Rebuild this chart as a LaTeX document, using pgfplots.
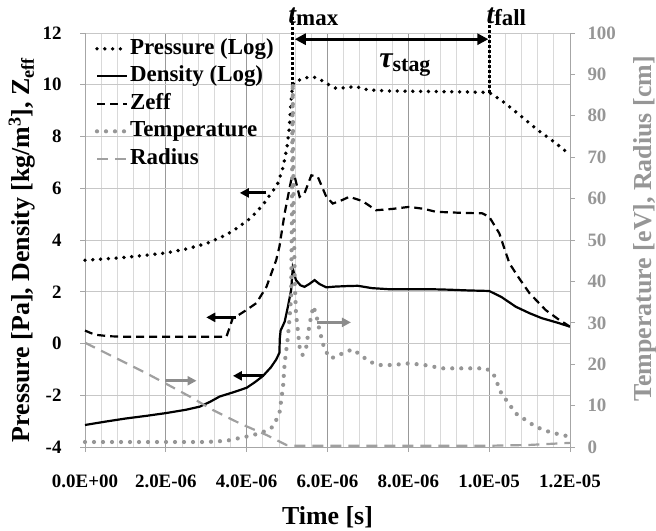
\documentclass[border=0pt]{standalone}
\usepackage{fontspec}
\setmainfont{Liberation Serif}
\usepackage{pgfplots}
\pgfplotsset{compat=1.18}
\usetikzlibrary{arrows.meta}
\definecolor{gser}{RGB}{150,150,150}
\definecolor{gdash}{RGB}{160,160,160}
\definecolor{garrow}{RGB}{140,140,140}
\definecolor{glabel}{RGB}{150,150,150}
\tikzset{
 pres/.style={black, line width=3.8bp, dash pattern=on 0bp off 7.8bp, line cap=round},
 dens/.style={black, line width=2.2bp},
 zeff/.style={black, line width=2.2bp, dash pattern=on 8bp off 5bp},
 temp/.style={gser, line width=4.2bp, dash pattern=on 0bp off 9bp, line cap=round},
 rad/.style={gdash, line width=2.2bp, dash pattern=on 11bp off 7bp},
}
\newcommand\tf{\fontsize{19}{22}\selectfont\bfseries}
\newcommand\lf{\fontsize{26}{30}\selectfont\bfseries}
\begin{document}
\begin{tikzpicture}
\pgfplotsset{every axis/.append style={scale only axis, width=485bp, height=414bp, xmin=0, xmax=1.2e-5, scaled x ticks=false}}
\begin{axis}[name=ax,
  ymin=-4, ymax=12,
  axis x line*=bottom, axis y line*=left,
  axis line style={draw=black!35, line width=0.8bp},
  xtick={0,2e-6,4e-6,6e-6,8e-6,1e-5,1.2e-5},
  xticklabels={0.0E+00,2.0E-06,4.0E-06,6.0E-06,8.0E-06,1.0E-05,1.2E-05},
  minor x tick num=4,
  ytick={-4,-2,0,2,4,6,8,10,12},
  yticklabels={-4,-2,0,2,4,6,8,10,12},
  tick align=outside, major tick length=5bp, minor tick length=0bp,
  tick style={draw=black!35, line width=0.8bp},
  grid=both,
  major x grid style={draw=black!40, line width=0.8bp},
  minor x grid style={draw=black!15, line width=0.8bp},
  major y grid style={draw=black!22, line width=0.8bp},
  xticklabel style={font=\tf, yshift=-19bp},
  yticklabel style={font=\tf, xshift=-15bp},
  xlabel={Time [s]},
  xlabel style={font=\lf, at={(axis description cs:0.5,-0.169)}, anchor=center},
  ylabel={Pressure [Pa], Density [kg/m\textsuperscript{3}], Z\textsubscript{eff}},
  ylabel style={font=\lf, at={(axis description cs:-0.13,0.476)}, anchor=center},
  clip=false,
]
% Pressure (Log)
\addplot[pres] coordinates {
(0,3.22)(0.5e-6,3.27)(1.0e-6,3.33)(1.5e-6,3.41)(2.0e-6,3.5)(2.5e-6,3.65)(3.0e-6,3.86)
(3.5e-6,4.2)(3.8e-6,4.5)(4.1e-6,4.85)(4.4e-6,5.35)(4.6e-6,5.8)(4.75e-6,6.1)(4.9e-6,6.8)
(5.0e-6,7.6)(5.06e-6,8.4)(5.1e-6,9.4)(5.14e-6,10.0)(5.2e-6,10.15)(5.35e-6,10.2)(5.5e-6,10.28)
(5.65e-6,10.3)(5.8e-6,10.22)(5.97e-6,10.05)(6.2e-6,9.87)(6.4e-6,9.88)(6.7e-6,9.93)(7.0e-6,9.8)
(7.5e-6,9.76)(8.0e-6,9.75)(8.5e-6,9.74)(9.0e-6,9.73)(9.5e-6,9.72)(1.0e-5,9.7)(1.03e-5,9.4)
(1.07e-5,8.9)(1.12e-5,8.25)(1.16e-5,7.8)(1.2e-5,7.3)};
% Density (Log)
\addplot[dens] coordinates {
(0,-3.15)(0.5e-6,-3.02)(1.0e-6,-2.9)(1.5e-6,-2.8)(2.0e-6,-2.69)(2.5e-6,-2.56)(2.84e-6,-2.44)
(3.1e-6,-2.25)(3.33e-6,-2.05)(3.7e-6,-1.87)(4.0e-6,-1.71)(4.2e-6,-1.5)(4.4e-6,-1.26)
(4.6e-6,-0.92)(4.73e-6,-0.62)(4.81e-6,-0.36)(4.82e-6,0.2)(4.84e-6,0.5)(4.94e-6,0.84)
(5.02e-6,1.42)(5.1e-6,2.07)(5.14e-6,2.9)(5.22e-6,2.45)(5.33e-6,2.25)(5.43e-6,2.19)
(5.55e-6,2.3)(5.68e-6,2.45)(5.8e-6,2.3)(5.97e-6,2.17)(6.2e-6,2.2)(6.5e-6,2.22)(6.75e-6,2.23)
(7.1e-6,2.14)(7.5e-6,2.1)(8.0e-6,2.1)(8.5e-6,2.1)(9.0e-6,2.08)(9.5e-6,2.05)(1.0e-5,2.03)
(1.03e-5,1.8)(1.066e-5,1.42)(1.1e-5,1.17)(1.13e-5,0.98)(1.17e-5,0.8)(1.2e-5,0.65)};
% Zeff
\addplot[zeff] coordinates {
(0,0.5)(0.15e-6,0.4)(0.3e-6,0.33)(0.6e-6,0.28)(1.0e-6,0.26)(2.0e-6,0.26)(3.0e-6,0.26)
(3.5e-6,0.26)(3.66e-6,1.0)(3.8e-6,1.1)(3.99e-6,1.29)(4.24e-6,1.56)(4.49e-6,2.19)(4.73e-6,3.22)
(4.81e-6,3.74)(4.94e-6,5.03)(5.1e-6,6.31)(5.19e-6,6.44)(5.31e-6,5.67)(5.43e-6,5.8)(5.6e-6,6.5)
(5.76e-6,6.44)(5.97e-6,5.67)(6.13e-6,5.41)(6.3e-6,5.5)(6.54e-6,5.67)(6.87e-6,5.5)(7.2e-6,5.15)
(7.6e-6,5.2)(8.02e-6,5.28)(8.4e-6,5.2)(8.68e-6,5.09)(9.3e-6,5.05)(9.83e-6,5.03)(1.0e-5,4.9)
(1.025e-5,4.26)(1.05e-5,3.1)(1.075e-5,2.5)(1.1e-5,1.94)(1.14e-5,1.29)(1.17e-5,0.95)(1.2e-5,0.65)};
% annotations
\draw[black, line width=3bp, dash pattern=on 2.5bp off 2.5bp] (axis cs:5.14e-6,10.0) -- (axis cs:5.14e-6,12.6);
\draw[black, line width=3bp, dash pattern=on 2.5bp off 2.5bp] (axis cs:1.0e-5,9.7) -- (axis cs:1.0e-5,12.6);
\draw[black, line width=3bp, {Triangle[length=11bp,width=11bp]}-{Triangle[length=11bp,width=11bp]}] (axis cs:5.19e-6,11.76) -- (axis cs:9.98e-6,11.76);
\draw[black, line width=3bp, -{Triangle[length=9bp,width=9bp]}] (axis cs:4.49e-6,5.82) -- (axis cs:3.83e-6,5.82);
\draw[black, line width=3bp, -{Triangle[length=9bp,width=9bp]}] (axis cs:3.74e-6,1.01) -- (axis cs:3.0e-6,1.01);
\draw[black, line width=3bp, -{Triangle[length=9bp,width=9bp]}] (axis cs:4.44e-6,-1.25) -- (axis cs:3.66e-6,-1.25);
\node[anchor=base west, inner sep=0pt] at (axis cs:5.03e-6,12.37) {\fontsize{28}{28}\selectfont\bfseries\itshape t\raisebox{-2bp}{\fontsize{23}{23}\selectfont\upshape max}};
\node[anchor=base west, inner sep=0pt] at (axis cs:9.93e-6,12.37) {\fontsize{28}{28}\selectfont\bfseries\itshape t\raisebox{-2bp}{\fontsize{23}{23}\selectfont\upshape fall}};
\node[anchor=base west, inner sep=0pt] at (axis cs:7.28e-6,10.68) {\fontsize{30}{30}\selectfont\bfseries\itshape τ\raisebox{-4bp}{\fontsize{22}{22}\selectfont\upshape stag}};
\end{axis}
\begin{axis}[
  ymin=0, ymax=100,
  axis x line=none, axis y line*=right,
  axis line style={draw=black!35, line width=0.8bp},
  ytick={0,10,20,30,40,50,60,70,80,90,100},
  yticklabels={0,10,20,30,40,50,60,70,80,90,100},
  tick align=outside, major tick length=5bp,
  tick style={draw=black!35, line width=0.8bp},
  yticklabel style={font=\tf, text=glabel, xshift=9bp},
  ylabel={Temperature [eV], Radius [cm]},
  ylabel style={font=\lf, text=glabel, at={(axis description cs:1.155,0.527)}, anchor=center},
  clip=false,
  legend style={at={(axis description cs:0.02,0.99)}, anchor=north west, draw=none, fill=none,
    font=\fontsize{23}{23}\selectfont\bfseries, row sep=4.5bp, inner xsep=0pt, inner ysep=0pt,
    nodes={inner sep=1bp, text height=16bp, text depth=5bp}},
  legend cell align=left,
  legend image code/.code={\draw[#1] (0bp,0bp) -- (30bp,0bp);},
]
\addlegendimage{pres}\addlegendentry{Pressure (Log)}
\addlegendimage{dens}\addlegendentry{Density (Log)}
\addlegendimage{zeff}\addlegendentry{Zeff}
% Temperature
\addplot[temp] coordinates {
(0,1.2)(1.0e-6,1.2)(2.0e-6,1.2)(3.0e-6,1.2)(3.5e-6,1.5)(3.99e-6,2.5)(4.32e-6,3.3)(4.5e-6,4.0)
(4.65e-6,4.9)(4.73e-6,6.5)(4.81e-6,8.1)(4.9e-6,14.6)(4.94e-6,20.2)(5.02e-6,26.5)(5.06e-6,31)
(5.1e-6,36.3)(5.12e-6,56)(5.13e-6,76)(5.14e-6,88)(5.16e-6,60)(5.19e-6,40)(5.22e-6,32.3)
(5.31e-6,24.2)(5.38e-6,22.2)(5.47e-6,23.9)(5.56e-6,29.9)(5.65e-6,34)(5.72e-6,32)(5.8e-6,28.3)
(5.93e-6,23.4)(6.09e-6,21.4)(6.37e-6,22.6)(6.62e-6,23.6)(6.85e-6,22)(7.04e-6,20.6)(7.28e-6,19.8)
(7.6e-6,19.8)(8.02e-6,20.2)(8.4e-6,19.8)(8.84e-6,19)(9.4e-6,19)(9.92e-6,19)(1.01e-5,17.8)
(1.03e-5,13)(1.066e-5,8.1)(1.115e-5,4.9)(1.15e-5,3.6)(1.18e-5,2.9)(1.2e-5,2.5)};
\addlegendentry{Temperature}
% Radius
\addplot[rad] coordinates {
(0,25.2)(0.7e-6,21.8)(1.52e-6,17.8)(2.02e-6,15.2)(2.59e-6,12.2)(3.17e-6,8.9)(3.83e-6,5.7)
(4.49e-6,2.9)(4.98e-6,0.5)(5.2e-6,0.3)(6.0e-6,0.3)(8.0e-6,0.3)(1.0e-5,0.3)(1.1e-5,0.5)(1.2e-5,1.0)};
\addlegendentry{Radius}
\draw[garrow, line width=3bp, -{Triangle[length=9bp,width=9bp]}] (axis cs:1.98e-6,16.0) -- (axis cs:2.76e-6,16.0);
\draw[garrow, line width=3bp, -{Triangle[length=9bp,width=9bp]}] (axis cs:5.75e-6,30.1) -- (axis cs:6.58e-6,30.1);
\end{axis}
\pgfresetboundingbox
\path[use as bounding box] ([shift={(-85bp,-84bp)}]ax.south west) rectangle ([shift={(86bp,33bp)}]ax.north east);
\end{tikzpicture}
\end{document}
